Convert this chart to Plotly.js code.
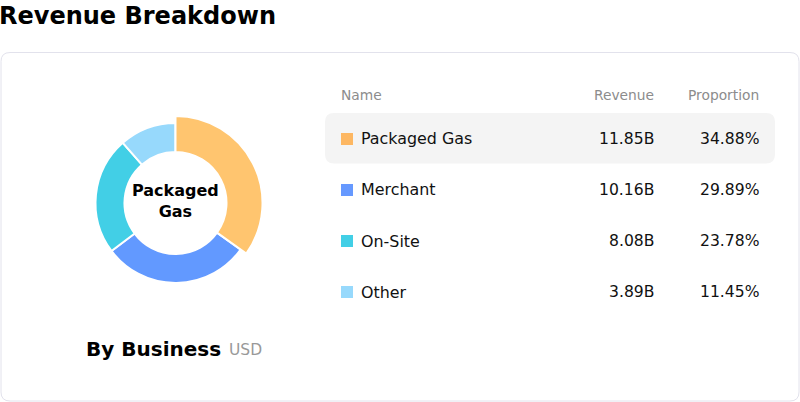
<!DOCTYPE html>
<html>
<head>
<meta charset="utf-8">
<script src="https://cdn.plot.ly/plotly-3.0.1.min.js"></script>
<style>
  html, body { margin: 0; padding: 0; background: #ffffff; }
  #chart { width: 800px; height: 402px; }
</style>
</head>
<body>
<div id="chart"></div>
<script>
// ---- data ----
const categories = ["Packaged Gas", "Merchant", "On-Site", "Other"];
const revenue = [11.85, 10.16, 8.08, 3.89];          // billions USD
const revenueLabels = ["11.85B", "10.16B", "8.08B", "3.89B"];
const proportionLabels = ["34.88%", "29.89%", "23.78%", "11.45%"];
const sliceColors = ["#FFC56F", "#6299FF", "#42CFE6", "#97D9FC"];
const swatchColors = ["#FDB762", "#6699FF", "#42CFE6", "#97D9FC"];
const highlighted = 0;
const headers = ["Name", "Revenue", "Proportion"];
const chartTitle = "Revenue Breakdown";
const subTitle = "By Business";
const unitLabel = "USD";

// ---- geometry helpers (pixel -> paper) ----
const W = 800, H = 402;
const px = x => x / W;
const py = y => 1 - y / H;
function roundRect(x0, y0, x1, y1, r) {
  const rx = r / W, ry = r / H;
  const X0 = px(x0), X1 = px(x1), Y0 = py(y0), Y1 = py(y1);
  return `M ${X0 + rx},${Y0} L ${X1 - rx},${Y0} Q ${X1},${Y0} ${X1},${Y0 - ry} ` +
         `L ${X1},${Y1 + ry} Q ${X1},${Y1} ${X1 - rx},${Y1} ` +
         `L ${X0 + rx},${Y1} Q ${X0},${Y1} ${X0},${Y1 + ry} ` +
         `L ${X0},${Y0 - ry} Q ${X0},${Y0} ${X0 + rx},${Y0} Z`;
}

const cx = 175.5, cy = 203, rOuter = 80, rInner = 51, rEmph = 87;
function dom(r) {
  return { x: [px(cx - r), px(cx + r)], y: [py(cy + r), py(cy - r)] };
}

const font = "DejaVu Sans";

const base = {
  type: "pie",
  labels: categories,
  values: revenue,
  sort: false,
  direction: "clockwise",
  rotation: 0,
  textinfo: "none",
  hoverinfo: "label+value",
  showlegend: false,
  hole: rInner / rOuter,
  domain: dom(rOuter),
  marker: { colors: sliceColors, line: { color: "#ffffff", width: 2 } }
};
const emphColors = sliceColors.map((c, i) => i === highlighted ? c : "rgba(0,0,0,0)");
const emphLine = sliceColors.map((c, i) => i === highlighted ? "#ffffff" : "rgba(0,0,0,0)");
const emph = {
  type: "pie",
  labels: categories,
  values: revenue,
  sort: false,
  direction: "clockwise",
  rotation: 0,
  textinfo: "none",
  hoverinfo: "skip",
  showlegend: false,
  hole: rInner / rEmph,
  domain: dom(rEmph),
  marker: { colors: emphColors, line: { color: emphLine, width: 2 } }
};

const shapes = [
  { type: "path", xref: "paper", yref: "paper", path: roundRect(1, 52.5, 799, 401, 9),
    line: { color: "#E2E2EC", width: 1 }, fillcolor: "#ffffff", layer: "below" },
  { type: "path", xref: "paper", yref: "paper", path: roundRect(325, 113, 775, 163.5, 9),
    line: { width: 0 }, fillcolor: "#F4F4F4", layer: "below" }
];

const annotations = [];
function ann(text, x, y, anchor, size, color, bold) {
  annotations.push({
    xref: "paper", yref: "paper", x: px(x), y: py(y), xanchor: anchor, yanchor: "middle",
    text: bold ? `<b>${text}</b>` : text, showarrow: false, borderpad: 0, borderwidth: 0,
    font: { family: font, size: size, color: color }
  });
}

ann(chartTitle, -1, 16, "left", 24, "#000000", true);
ann(categories[highlighted].split(" ").join("<br>"), cx, 200.8, "center", 16, "#000000", true);
ann(subTitle, 86, 349, "left", 20, "#000000", true);
ann(unitLabel, 229, 350, "left", 15.5, "#999999", false);

const headerY = 95;
const colName = 341, colRev = 653.5, colProp = 758.5;
ann(headers[0], colName, headerY, "left", 13.8, "#8C8C8C", false);
ann(headers[1], colRev, headerY, "right", 13.8, "#8C8C8C", false);
ann(headers[2], colProp, headerY, "right", 13.8, "#8C8C8C", false);

categories.forEach((name, i) => {
  const y = 139 + i * 51;
  shapes.push({ type: "rect", xref: "paper", yref: "paper",
    x0: px(341), x1: px(353), y0: py(y - 6), y1: py(y + 6),
    fillcolor: swatchColors[i], line: { width: 0 } });
  ann(name, 361, y, "left", 15.9, "#111111", false);
  ann(revenueLabels[i], colRev, y, "right", 15.6, "#111111", false);
  ann(proportionLabels[i], colProp, y, "right", 15.6, "#111111", false);
});

const layout = {
  width: W, height: H,
  margin: { l: 0, r: 0, t: 0, b: 0 },
  paper_bgcolor: "#ffffff",
  plot_bgcolor: "#ffffff",
  showlegend: false,
  shapes: shapes,
  annotations: annotations
};

Plotly.newPlot("chart", [base, emph], layout, { displayModeBar: false, staticPlot: true });
</script>
</body>
</html>
